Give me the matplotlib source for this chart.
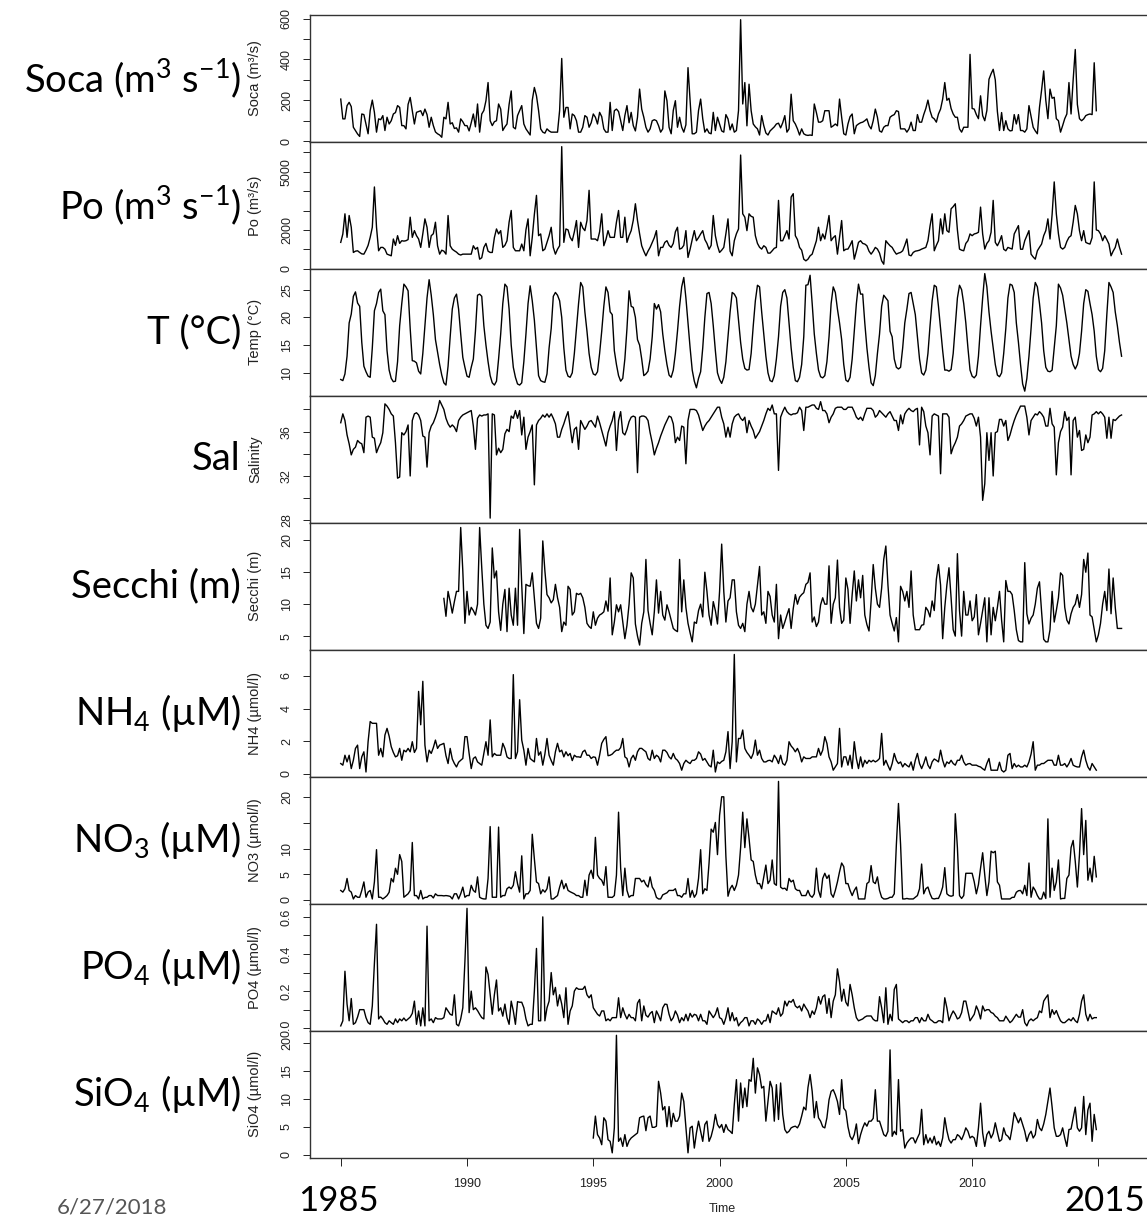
import matplotlib.pyplot as plt
import numpy as np

plt.rcParams['mathtext.fontset'] = 'custom'
plt.rcParams['mathtext.rm'] = 'Lato'
plt.rcParams['mathtext.it'] = 'Lato:italic'
plt.rcParams['mathtext.bf'] = 'Lato:bold'

# monthly series, one row per year
soca = [  # 1985-2014, m3/s
    206, 109, 109, 174, 190, 169, 68, 52, 35, 23, 133, 130,
    84, 36, 150, 201, 141, 44, 109, 105, 125, 52, 117, 84,
    100, 133, 140, 174, 165, 76, 76, 60, 180, 214, 150, 84,
    141, 145, 149, 125, 157, 130, 68, 117, 76, 45, 36, 30,
    19, 117, 109, 190, 84, 90, 62, 65, 44, 109, 95, 76,
    76, 50, 90, 133, 70, 182, 44, 133, 150, 198, 287, 100,
    76, 95, 100, 182, 157, 52, 70, 84, 180, 246, 68, 60,
    125, 150, 174, 84, 60, 45, 30, 200, 263, 222, 150, 60,
    44, 39, 60, 50, 44, 44, 44, 44, 150, 405, 117, 165,
    165, 60, 133, 125, 100, 44, 44, 68, 125, 117, 68, 90,
    133, 117, 84, 141, 120, 60, 44, 44, 190, 52, 149, 157,
    145, 100, 52, 125, 174, 90, 141, 76, 50, 117, 255, 157,
    117, 68, 44, 60, 100, 105, 100, 76, 44, 60, 246, 198,
    68, 36, 150, 198, 68, 117, 68, 44, 80, 360, 200, 36,
    36, 44, 150, 206, 110, 44, 60, 40, 36, 141, 52, 117,
    84, 50, 44, 130, 109, 55, 84, 44, 52, 150, 595, 182,
    287, 75, 279, 149, 84, 70, 60, 30, 125, 76, 40, 30,
    50, 60, 70, 84, 88, 65, 90, 125, 44, 60, 230, 100,
    84, 60, 30, 60, 36, 30, 28, 30, 28, 182, 140, 93,
    93, 100, 149, 149, 149, 68, 75, 84, 75, 206, 117, 36,
    30, 84, 120, 133, 36, 76, 84, 90, 93, 100, 109, 76,
    60, 100, 157, 117, 50, 44, 68, 76, 76, 117, 125, 130,
    149, 145, 60, 60, 60, 44, 60, 93, 52, 52, 130, 93,
    93, 130, 160, 201, 149, 117, 109, 93, 133, 157, 206, 287,
    200, 210, 160, 133, 117, 117, 60, 44, 68, 68, 68, 425,
    160, 157, 130, 110, 222, 125, 100, 150, 303, 330, 352, 300,
    145, 52, 140, 52, 100, 60, 50, 52, 130, 84, 130, 52,
    52, 44, 60, 174, 120, 68, 50, 36, 165, 250, 344, 200,
    110, 255, 210, 215, 110, 100, 44, 76, 110, 133, 287, 133,
    300, 449, 180, 110, 100, 109, 125, 130, 133, 130, 384, 149,
]

po = [  # 1985-2015, m3/s
    1354, 1788, 2830, 1614, 2743, 2135, 833, 900, 920, 833, 760, 746,
    950, 1200, 1614, 2135, 4218, 2135, 920, 1094, 1094, 1000, 746, 700,
    660, 1528, 1200, 1700, 1300, 1440, 1420, 1440, 1500, 2656, 1614, 1961,
    1700, 1528, 1094, 1800, 2569, 2135, 1094, 1700, 1800, 2395, 1180, 746,
    950, 900, 746, 2743, 1180, 1000, 920, 850, 746, 700, 746, 746,
    746, 746, 746, 1180, 1000, 1094, 486, 560, 1094, 1300, 900, 833,
    833, 1600, 2048, 1790, 1961, 1094, 1200, 1440, 2400, 3003, 1094, 920,
    920, 920, 1267, 920, 2000, 2569, 660, 1614, 2800, 3784, 1700, 1790,
    920, 1007, 1354, 1700, 2135, 1094, 746, 1000, 1180, 6302, 1354, 2048,
    2000, 1614, 1440, 1900, 2482, 1094, 2395, 2100, 1961, 2482, 4045, 1528,
    1528, 1528, 1440, 1900, 2830, 1180, 1500, 1961, 1614, 1614, 1614, 2400,
    3003, 1614, 1614, 2656, 1354, 1700, 1961, 2500, 3350, 2482, 1800, 1180,
    900, 660, 900, 1094, 1354, 1600, 1961, 660, 1094, 1094, 1354, 1440,
    1200, 1094, 1300, 1900, 2135, 1007, 1050, 1200, 1961, 574, 1000, 1500,
    1961, 1440, 1600, 1790, 1961, 1500, 1300, 1000, 1200, 2743, 1700, 1180,
    833, 950, 1094, 1800, 2569, 900, 660, 1440, 1800, 2048, 5868, 2830,
    2656, 1961, 2830, 2700, 2656, 1700, 1300, 1100, 1007, 1180, 1094, 800,
    800, 920, 1050, 1094, 3524, 1440, 1440, 1700, 1961, 1528, 3698, 3871,
    1700, 1500, 1094, 950, 486, 400, 486, 660, 746, 1094, 1440, 2135,
    1440, 1790, 1528, 2100, 2743, 1440, 1600, 1700, 746, 1600, 2482, 920,
    1000, 1007, 1200, 1440, 486, 900, 1354, 1440, 1300, 1267, 1180, 900,
    746, 900, 1094, 1007, 800, 400, 226, 1440, 1300, 1180, 1094, 900,
    746, 800, 833, 920, 1200, 1528, 700, 660, 833, 900, 920, 950,
    1007, 1050, 1094, 1440, 2200, 2830, 920, 1200, 1440, 2569, 1790, 2830,
    1961, 1876, 3090, 3200, 3350, 2000, 1007, 950, 920, 1300, 1440, 1790,
    1700, 1790, 1820, 1876, 3177, 1790, 1007, 1300, 1440, 1876, 3524, 1354,
    1180, 1400, 1700, 1000, 920, 1094, 1050, 1007, 1790, 2000, 2222, 1000,
    1000, 1440, 1700, 1961, 746, 600, 486, 920, 1100, 1267, 1700, 1961,
    2569, 1528, 2800, 4479, 2830, 1800, 1100, 1007, 1094, 1400, 1614, 1700,
    2400, 3264, 2830, 1961, 1440, 1961, 1354, 1300, 1267, 1600, 4479, 2000,
    1961, 1790, 1440, 1700, 1500, 1267, 660, 900, 1094, 1528, 1100, 746,
]

temp = [  # 1985-2015, deg C
    8.8, 8.6, 9.8, 13.0, 19.0, 20.6, 23.8, 24.6, 22.6, 22.0, 15.5, 11.2,
    10.2, 9.4, 9.2, 14.5, 21.2, 22.5, 24.5, 25.1, 21.2, 20.5, 14.0, 10.5,
    9.0, 8.4, 8.5, 12.0, 18.5, 22.5, 26.0, 25.5, 24.8, 18.0, 12.2, 12.1,
    11.8, 10.3, 9.8, 13.5, 18.5, 23.5, 26.8, 24.0, 20.5, 16.0, 13.8, 11.5,
    9.6, 8.2, 7.8, 11.2, 16.5, 21.5, 23.5, 24.2, 21.5, 17.0, 12.8, 11.0,
    9.4, 9.2, 11.0, 12.5, 17.5, 24.0, 24.2, 23.8, 18.5, 15.0, 12.0, 9.5,
    8.2, 7.8, 8.5, 12.5, 17.0, 22.5, 26.0, 25.5, 21.5, 15.0, 11.0, 9.2,
    8.0, 7.8, 8.2, 12.0, 17.0, 22.5, 25.7, 23.0, 19.5, 14.5, 9.5, 8.6,
    8.4, 8.3, 9.8, 14.5, 18.0, 23.8, 24.5, 24.0, 23.0, 20.0, 14.5, 10.5,
    9.4, 9.2, 10.0, 13.5, 18.0, 22.5, 26.3, 25.5, 21.0, 17.5, 13.5, 11.0,
    9.8, 9.6, 10.2, 13.5, 17.5, 22.0, 25.5, 24.5, 21.0, 20.5, 14.0, 11.5,
    9.5, 8.5, 9.0, 12.5, 18.0, 24.8, 22.0, 21.8, 20.0, 16.0, 15.0, 12.5,
    9.5, 9.8, 10.3, 12.5, 16.5, 22.5, 21.5, 22.3, 21.0, 17.0, 14.0, 11.5,
    9.6, 9.2, 10.5, 13.5, 17.5, 22.0, 25.5, 27.2, 23.5, 19.0, 14.5, 10.5,
    8.5, 7.3, 9.0, 10.2, 14.5, 20.0, 24.3, 24.5, 22.5, 18.5, 14.0, 10.0,
    8.8, 8.1, 9.2, 12.0, 16.5, 21.0, 24.5, 24.2, 23.5, 19.5, 15.5, 12.5,
    10.8, 10.5, 10.6, 13.5, 18.5, 23.0, 25.8, 25.5, 21.0, 17.0, 13.0, 10.0,
    8.6, 8.4, 9.5, 12.5, 16.5, 22.0, 24.5, 25.0, 23.5, 19.0, 14.5, 11.0,
    8.6, 8.4, 9.2, 11.5, 16.5, 25.8, 25.9, 27.6, 22.5, 17.0, 13.5, 10.5,
    9.3, 9.1, 9.5, 12.0, 16.5, 22.5, 25.5, 24.5, 21.5, 19.0, 16.0, 11.5,
    8.7, 8.4, 9.2, 12.5, 17.5, 22.5, 26.0, 24.2, 24.2, 19.0, 14.5, 11.0,
    8.2, 7.7, 9.5, 13.5, 17.0, 22.0, 24.0, 23.5, 23.0, 17.5, 16.5, 12.5,
    11.0, 10.7, 11.0, 14.5, 19.0, 21.5, 24.3, 24.5, 22.5, 20.5, 16.5, 12.5,
    10.0, 9.6, 10.5, 13.5, 18.5, 23.0, 25.8, 25.5, 22.0, 18.0, 14.0, 10.5,
    10.5, 10.3, 10.6, 13.5, 18.5, 23.5, 25.8, 25.0, 22.5, 19.0, 14.5, 10.5,
    9.4, 9.1, 9.6, 13.0, 18.5, 23.5, 27.9, 25.5, 21.0, 17.5, 14.5, 11.5,
    9.6, 9.3, 10.0, 13.5, 18.0, 23.5, 26.0, 25.8, 24.5, 19.0, 15.5, 11.5,
    8.0, 6.7, 9.0, 13.0, 18.0, 23.5, 26.3, 25.5, 22.5, 19.0, 14.0, 11.0,
    10.3, 10.2, 10.5, 14.5, 18.5, 26.0, 25.3, 24.0, 21.5, 19.0, 16.0, 13.0,
    11.5, 10.7, 11.5, 13.5, 17.5, 22.5, 25.0, 24.7, 22.5, 20.5, 17.5, 13.0,
    10.6, 10.2, 10.8, 14.0, 20.5, 26.3, 25.5, 24.5, 21.0, 18.5, 15.5, 13.0,
]

sal = [  # 1985-2015
    36.8, 37.6, 37.0, 35.7, 34.9, 33.9, 34.4, 34.6, 35.2, 35.0, 34.9, 34.1,
    37.3, 37.4, 37.3, 35.5, 35.4, 34.1, 34.6, 35.0, 35.9, 38.5, 38.3, 38.0,
    37.6, 37.4, 35.0, 31.8, 31.9, 35.9, 35.7, 36.0, 36.6, 32.0, 37.0, 37.6,
    37.7, 37.5, 37.0, 35.6, 35.5, 32.8, 35.9, 36.5, 36.8, 37.3, 37.9, 38.8,
    38.4, 38.0, 37.2, 36.7, 36.4, 36.6, 36.4, 36.0, 37.0, 37.3, 37.5, 37.6,
    37.7, 37.8, 37.9, 36.5, 34.4, 37.2, 37.5, 37.4, 37.5, 37.5, 37.6, 28.2,
    37.6, 37.5, 33.9, 34.5, 34.1, 34.4, 35.8, 36.2, 36.0, 37.4, 37.2, 37.9,
    37.2, 37.9, 35.7, 37.3, 34.4, 35.5, 36.0, 36.6, 31.2, 36.6, 37.0, 37.2,
    37.5, 37.3, 37.6, 37.3, 37.6, 37.2, 36.7, 35.5, 35.5, 36.2, 36.7, 37.3,
    37.8, 36.4, 35.0, 36.2, 36.4, 34.4, 37.0, 36.6, 36.2, 36.5, 36.9, 37.0,
    36.7, 36.4, 37.4, 36.8, 36.1, 35.4, 34.7, 35.9, 36.5, 37.0, 37.8, 34.3,
    37.0, 37.8, 35.9, 35.7, 36.2, 36.9, 37.3, 37.4, 37.3, 32.3, 37.3, 37.4,
    37.4, 37.3, 37.0, 35.9, 35.0, 33.9, 34.5, 35.0, 35.6, 36.1, 36.6, 37.0,
    37.4, 37.3, 36.7, 35.0, 35.5, 35.2, 36.5, 36.4, 33.1, 37.0, 38.0, 38.0,
    38.0, 37.9, 37.5, 36.8, 36.1, 36.5, 36.8, 37.0, 37.3, 37.6, 37.9, 38.2,
    38.2, 37.3, 36.7, 35.5, 36.4, 35.5, 36.7, 37.3, 37.5, 37.6, 37.2, 37.0,
    37.3, 35.9, 37.0, 36.5, 36.1, 35.4, 35.7, 36.0, 36.5, 37.0, 37.6, 38.1,
    37.9, 38.4, 37.6, 37.6, 32.5, 37.3, 37.8, 38.2, 37.8, 37.6, 37.5, 37.6,
    37.6, 37.7, 38.2, 37.9, 36.1, 38.2, 38.2, 38.3, 38.4, 38.4, 38.1, 38.0,
    38.7, 37.9, 37.9, 37.6, 36.8, 37.3, 37.6, 38.1, 38.2, 38.2, 38.2, 38.0,
    38.0, 38.2, 38.2, 38.2, 37.8, 37.3, 37.1, 37.3, 37.0, 37.6, 38.1, 38.1,
    38.1, 37.9, 37.3, 37.5, 37.9, 37.7, 37.5, 37.3, 37.6, 37.8, 37.4, 37.0,
    37.0, 36.1, 37.5, 36.7, 37.6, 37.9, 38.1, 37.9, 37.8, 38.0, 38.1, 34.8,
    38.2, 37.8, 36.5, 35.9, 33.9, 37.4, 37.6, 37.5, 37.4, 32.2, 37.6, 37.6,
    37.6, 37.3, 34.0, 34.6, 35.0, 35.5, 36.5, 36.7, 37.0, 37.4, 37.5, 37.6,
    37.6, 37.2, 36.5, 37.3, 35.5, 29.8, 31.3, 35.9, 33.4, 35.9, 32.0, 35.9,
    36.0, 37.1, 37.1, 36.5, 37.0, 35.2, 35.7, 36.4, 37.0, 37.5, 37.9, 38.3,
    38.3, 38.3, 37.3, 35.7, 37.0, 37.3, 37.6, 37.5, 37.8, 37.6, 37.3, 36.5,
    36.5, 38.1, 36.7, 36.4, 32.1, 35.0, 36.0, 36.4, 37.8, 37.0, 37.3, 32.1,
    37.0, 37.3, 35.5, 36.1, 34.3, 34.4, 35.7, 35.0, 35.5, 37.5, 37.6, 37.8,
    37.6, 37.8, 37.6, 37.3, 35.4, 37.3, 35.4, 37.1, 37.0, 37.2, 37.4, 37.5,
]

secchi = [  # Feb 1989 - Dec 2015, m
    10.9, 8.1, 12.0, 10.4, 8.6, 10.4, 12.0, 12.0, 22.0, 15.2, 7.0,
    12.0, 8.3, 9.5, 9.0, 8.3, 10.0, 22.0, 15.7, 10.0, 6.7, 6.2, 7.2,
    18.8, 14.1, 15.2, 8.8, 5.9, 10.0, 12.3, 5.7, 12.5, 8.3, 6.7, 12.5,
    6.7, 21.7, 13.0, 5.4, 13.1, 12.9, 12.8, 14.9, 11.0, 7.0, 6.2, 7.8,
    19.9, 15.2, 11.5, 11.0, 10.2, 10.7, 13.1, 11.0, 9.5, 5.7, 7.2, 6.7,
    12.8, 12.3, 8.3, 8.8, 11.7, 11.5, 11.7, 11.0, 9.5, 7.0, 6.5, 6.2,
    8.8, 6.7, 7.8, 8.3, 8.5, 8.8, 10.5, 8.9, 14.1, 5.2, 7.2, 9.9,
    8.8, 9.9, 7.2, 4.6, 6.7, 10.0, 14.9, 14.1, 6.9, 5.0, 3.6, 7.0,
    8.8, 17.0, 9.0, 7.0, 5.2, 8.8, 13.8, 8.6, 12.0, 8.3, 7.5, 9.9,
    8.8, 7.5, 6.2, 5.9, 5.7, 17.0, 8.8, 13.8, 9.5, 7.0, 5.5, 4.1,
    7.2, 7.0, 9.0, 10.0, 8.0, 15.0, 12.0, 8.3, 6.7, 10.4, 9.0, 6.9,
    12.0, 19.4, 12.0, 7.2, 10.5, 11.0, 13.8, 13.8, 8.8, 6.7, 6.2, 7.0,
    5.7, 10.0, 12.0, 9.5, 8.8, 10.0, 13.0, 15.9, 8.3, 8.8, 7.0, 12.0,
    11.2, 8.3, 7.2, 13.1, 4.6, 8.3, 6.2, 7.2, 8.3, 9.3, 6.2, 9.3,
    11.5, 10.0, 11.1, 11.5, 11.8, 13.1, 13.4, 14.9, 7.2, 8.0, 6.5, 7.2,
    9.9, 11.0, 10.0, 10.0, 16.0, 7.0, 10.0, 11.0, 16.9, 9.5, 7.0, 7.5,
    14.1, 12.3, 7.0, 11.5, 15.2, 10.5, 13.8, 11.0, 14.5, 8.3, 6.8, 5.8,
    10.5, 16.2, 12.5, 10.0, 9.5, 12.5, 17.0, 19.1, 13.0, 8.3, 7.0, 5.8,
    7.9, 4.1, 12.8, 12.0, 10.5, 12.0, 9.5, 15.2, 8.3, 6.0, 6.0, 6.0,
    6.7, 6.8, 9.5, 9.0, 8.0, 10.5, 9.0, 13.9, 16.2, 13.0, 4.6, 9.5,
    13.0, 15.7, 11.0, 6.0, 5.0, 17.9, 9.0, 5.0, 12.0, 8.3, 8.3, 10.5,
    7.4, 8.0, 11.5, 5.2, 7.0, 9.0, 11.0, 4.1, 11.0, 5.2, 9.5, 7.4,
    9.5, 12.0, 7.5, 4.1, 13.7, 12.0, 12.0, 11.5, 9.0, 6.0, 4.3, 4.1,
    4.1, 16.5, 8.5, 6.9, 7.8, 8.3, 10.0, 12.5, 13.5, 8.8, 4.5, 4.1,
    4.1, 6.0, 12.0, 7.2, 9.0, 11.0, 14.9, 14.5, 9.5, 7.5, 6.9, 8.5,
    9.5, 10.0, 11.5, 9.5, 11.5, 17.0, 15.0, 18.0, 8.3, 8.0, 6.0, 4.1,
    5.2, 7.0, 10.0, 12.0, 9.0, 15.5, 8.5, 14.1, 9.5, 6.2, 6.2, 6.2,
]

nh4 = [  # 1985-2014, umol/l
    0.62, 0.52, 1.13, 0.72, 1.13, 0.31, 0.82, 1.55, 1.75, 0.31, 1.03, 1.34,
    0.10, 1.96, 3.2, 3.09, 3.09, 3.09, 1.13, 1.55, 1.03, 2.37, 2.78, 2.3,
    1.65, 1.3, 1.03, 1.1, 1.55, 0.82, 1.44, 1.34, 1.55, 1.34, 1.96, 1.3,
    1.55, 5.05, 3.0, 5.67, 1.75, 0.72, 1.44, 1.24, 1.6, 2.06, 1.55, 1.75,
    1.8, 1.86, 1.1, 0.62, 1.55, 0.9, 0.62, 0.41, 0.7, 0.82, 0.93, 2.27,
    2.27, 1.24, 0.31, 0.93, 1.03, 0.72, 0.62, 0.52, 1.24, 1.96, 1.13, 3.3,
    1.03, 1.24, 1.13, 1.13, 1.13, 1.86, 1.55, 1.03, 0.93, 0.93, 6.08, 0.93,
    1.34, 4.54, 2.06, 1.44, 0.52, 1.55, 0.93, 0.82, 0.72, 2.16, 1.13, 1.34,
    0.52, 1.2, 2.16, 1.13, 0.8, 0.52, 1.34, 1.86, 1.34, 1.44, 1.03, 1.34,
    1.1, 1.24, 0.8, 1.13, 1.03, 1.03, 1.0, 1.34, 1.44, 1.13, 1.13, 0.93,
    1.03, 1.0, 0.52, 1.13, 1.86, 2.1, 2.27, 1.1, 1.13, 1.2, 1.34, 1.44,
    1.44, 1.6, 2.16, 1.03, 0.93, 0.41, 0.93, 1.13, 0.82, 1.34, 1.55, 1.55,
    1.44, 1.34, 0.93, 0.82, 1.44, 0.93, 1.13, 1.03, 0.72, 1.44, 1.44, 1.3,
    1.03, 0.9, 1.24, 0.93, 0.82, 0.62, 0.21, 0.62, 0.82, 0.7, 0.62, 0.82,
    0.82, 0.93, 1.34, 1.2, 0.82, 0.93, 0.72, 0.5, 0.41, 1.44, 0.1, 0.72,
    0.62, 0.75, 0.82, 1.34, 2.58, 0.31, 1.96, 7.32, 0.72, 2.16, 2.16, 2.68,
    1.55, 1.3, 1.13, 0.93, 1.24, 2.06, 1.13, 1.44, 0.93, 0.72, 0.72, 0.8,
    0.82, 0.72, 1.13, 0.93, 0.62, 1.13, 0.62, 0.52, 0.82, 1.96, 1.7, 1.55,
    1.34, 1.55, 1.24, 0.72, 1.03, 0.93, 0.93, 0.93, 1.03, 1.03, 1.03, 1.55,
    1.13, 1.44, 2.27, 1.86, 1.03, 0.72, 0.21, 0.41, 0.62, 2.78, 0.41, 1.03,
    1.03, 0.52, 1.13, 0.31, 1.96, 0.93, 0.31, 1.03, 0.41, 0.82, 0.62, 0.82,
    0.72, 0.82, 0.72, 0.8, 0.93, 2.47, 0.52, 0.82, 0.5, 0.21, 0.62, 1.24,
    0.82, 0.62, 0.72, 0.41, 0.62, 0.5, 0.41, 0.72, 0.21, 0.82, 1.24, 0.62,
    0.31, 0.62, 1.03, 0.52, 0.31, 0.72, 0.9, 0.82, 0.72, 1.44, 0.82, 0.41,
    0.72, 0.62, 0.82, 0.62, 0.52, 0.82, 0.82, 1.13, 0.72, 0.52, 0.6, 0.62,
    0.52, 0.52, 0.52, 0.45, 0.41, 0.3, 0.21, 0.62, 0.93, 0.21, 0.21, 0.21,
    0.21, 0.7, 0.21, 0.1, 0.21, 1.13, 1.24, 0.31, 0.62, 0.41, 0.52, 0.41,
    0.41, 0.52, 0.41, 0.72, 1.2, 1.96, 0.21, 0.52, 0.52, 0.62, 0.62, 0.72,
    0.82, 0.82, 0.82, 0.52, 0.52, 1.13, 0.52, 0.52, 0.62, 0.41, 0.62, 0.93,
    0.52, 0.45, 0.41, 0.41, 1.03, 1.44, 0.82, 0.41, 0.21, 0.62, 0.41, 0.21,
]

no3 = [  # 1985-2014, umol/l
    1.86, 1.53, 2.19, 4.19, 1.86, 1.53, 0.2, 0.86, 0.53, 0.53, 1.86, 3.52,
    0.53, 1.53, 1.86, 0.2, 3.52, 9.8, 0.53, 0.53, 0.2, 0.5, 0.86, 1.5,
    4.19, 3.5, 6.18, 5.0, 8.84, 7.5, 0.53, 0.86, 1.2, 1.86, 11.2, 0.86,
    0.86, 0.2, 1.86, 0.2, 0.5, 0.53, 0.86, 0.86, 0.4, 1.2, 0.86, 0.86,
    0.86, 0.8, 0.86, 0.8, 0.7, 0.2, 1.2, 1.2, 0.2, 1.2, 2.5, 0.53,
    0.86, 0.86, 2.86, 1.86, 1.5, 4.5, 0.53, 0.3, 0.2, 0.2, 4.19, 14.3,
    0.53, 0.53, 0.53, 14.2, 0.53, 0.86, 0.86, 2.19, 2.52, 2.19, 2.86, 5.5,
    3.19, 1.53, 8.6, 0.2, 1.2, 1.2, 1.86, 12.8, 8.0, 3.52, 3.19, 1.2,
    2.0, 1.53, 2.19, 4.5, 0.2, 0.2, 0.53, 0.86, 2.5, 3.85, 2.19, 3.19,
    1.86, 1.6, 1.4, 1.2, 0.86, 0.86, 0.53, 0.53, 3.85, 0.86, 4.85, 5.8,
    4.19, 12.2, 4.85, 4.19, 3.85, 2.86, 6.5, 0.53, 0.53, 0.5, 0.86, 4.85,
    17.1, 6.2, 0.86, 6.2, 1.86, 0.53, 0.86, 0.86, 4.19, 4.19, 4.19, 3.52,
    3.85, 3.0, 2.52, 4.5, 2.52, 1.86, 0.5, 0.2, 0.2, 1.0, 1.2, 1.4,
    1.86, 1.86, 1.86, 2.19, 0.86, 0.86, 0.53, 1.2, 1.2, 4.19, 0.53, 1.86,
    0.53, 1.2, 4.19, 9.8, 1.2, 2.19, 1.86, 7.2, 13.8, 13.2, 15.1, 8.84,
    16.5, 20.1, 20.1, 8.5, 0.73, 2.19, 2.86, 1.86, 2.86, 4.85, 10.2, 17.1,
    10.2, 15.8, 12.0, 7.8, 7.5, 4.85, 3.19, 3.19, 2.19, 4.5, 6.8, 3.19,
    3.85, 7.8, 3.19, 2.86, 23.1, 2.5, 2.19, 2.3, 1.86, 4.19, 3.52, 3.85,
    2.19, 1.86, 1.86, 0.86, 0.86, 0.86, 1.86, 0.86, 0.53, 1.2, 6.2, 1.86,
    0.53, 4.19, 5.2, 4.19, 4.85, 1.2, 0.53, 1.86, 3.52, 5.5, 7.2, 6.5,
    3.19, 3.19, 1.86, 0.86, 1.86, 2.52, 0.2, 0.2, 0.2, 0.2, 3.19, 3.52,
    6.7, 3.52, 3.19, 4.5, 1.86, 0.53, 0.2, 0.2, 0.3, 0.53, 0.53, 1.2,
    10.8, 18.8, 10.8, 0.2, 0.2, 0.3, 0.2, 0.2, 0.2, 0.53, 0.86, 2.19,
    7.0, 1.2, 2.19, 2.52, 1.2, 0.3, 0.2, 0.3, 0.3, 1.2, 2.52, 6.3,
    1.2, 0.86, 0.73, 0.86, 16.8, 10.2, 0.86, 0.3, 0.86, 5.2, 5.2, 5.2,
    5.2, 3.52, 1.2, 3.0, 6.2, 9.2, 4.85, 0.86, 3.52, 9.5, 9.2, 9.5,
    3.52, 2.86, 0.2, 0.2, 0.2, 0.2, 0.2, 0.5, 0.53, 1.5, 1.8, 1.86,
    1.2, 2.86, 0.86, 7.2, 0.53, 2.52, 1.86, 0.86, 0.2, 0.2, 1.53, 0.3,
    15.8, 0.53, 6.2, 1.86, 3.52, 7.8, 0.2, 0.3, 0.3, 4.19, 4.85, 10.2,
    11.6, 7.5, 2.52, 8.84, 17.8, 8.84, 15.5, 3.85, 6.2, 3.52, 8.5, 4.5,
]

po4 = [  # 1985-2014, umol/l
    0.0125, 0.04, 0.307, 0.13, 0.04, 0.16, 0.021, 0.03, 0.06, 0.1, 0.1, 0.1,
    0.057, 0.03, 0.021, 0.12, 0.35, 0.56, 0.05, 0.065, 0.05, 0.03, 0.021, 0.04,
    0.03, 0.021, 0.05, 0.03, 0.05, 0.04, 0.055, 0.04, 0.05, 0.06, 0.08, 0.146,
    0.021, 0.093, 0.0125, 0.11, 0.0125, 0.55, 0.04, 0.05, 0.03, 0.057, 0.05, 0.05,
    0.05, 0.057, 0.11, 0.093, 0.075, 0.07, 0.18, 0.021, 0.0125, 0.05, 0.11, 0.36,
    0.646, 0.084, 0.2, 0.1, 0.11, 0.095, 0.075, 0.057, 0.05, 0.33, 0.29, 0.18,
    0.075, 0.18, 0.26, 0.093, 0.11, 0.065, 0.13, 0.057, 0.021, 0.146, 0.093, 0.021,
    0.143, 0.14, 0.14, 0.11, 0.05, 0.0125, 0.021, 0.021, 0.2, 0.43, 0.04, 0.04,
    0.6, 0.04, 0.11, 0.146, 0.3, 0.18, 0.22, 0.12, 0.18, 0.13, 0.057, 0.218,
    0.021, 0.093, 0.12, 0.2, 0.218, 0.21, 0.21, 0.21, 0.226, 0.18, 0.164, 0.18,
    0.11, 0.093, 0.075, 0.066, 0.093, 0.093, 0.04, 0.05, 0.04, 0.057, 0.057, 0.057,
    0.164, 0.057, 0.11, 0.075, 0.05, 0.075, 0.057, 0.057, 0.04, 0.135, 0.155, 0.04,
    0.12, 0.07, 0.06, 0.08, 0.09, 0.03, 0.093, 0.07, 0.04, 0.11, 0.13, 0.128,
    0.075, 0.04, 0.057, 0.093, 0.07, 0.03, 0.057, 0.04, 0.075, 0.04, 0.08, 0.06,
    0.075, 0.07, 0.04, 0.075, 0.04, 0.04, 0.021, 0.093, 0.075, 0.057, 0.075, 0.11,
    0.057, 0.05, 0.021, 0.057, 0.11, 0.04, 0.084, 0.04, 0.057, 0.0125, 0.03, 0.04,
    0.057, 0.057, 0.0125, 0.04, 0.04, 0.021, 0.05, 0.04, 0.021, 0.04, 0.04, 0.075,
    0.03, 0.093, 0.084, 0.075, 0.11, 0.065, 0.08, 0.146, 0.12, 0.146, 0.14, 0.155,
    0.12, 0.11, 0.12, 0.093, 0.13, 0.11, 0.093, 0.057, 0.093, 0.075, 0.11, 0.17,
    0.13, 0.17, 0.18, 0.08, 0.16, 0.057, 0.146, 0.18, 0.32, 0.25, 0.146, 0.21,
    0.14, 0.12, 0.236, 0.18, 0.11, 0.057, 0.04, 0.045, 0.05, 0.06, 0.066, 0.066,
    0.066, 0.048, 0.04, 0.04, 0.17, 0.11, 0.03, 0.218, 0.021, 0.075, 0.04, 0.209,
    0.236, 0.05, 0.04, 0.03, 0.04, 0.04, 0.03, 0.04, 0.04, 0.057, 0.057, 0.03,
    0.057, 0.04, 0.04, 0.075, 0.048, 0.04, 0.03, 0.03, 0.04, 0.04, 0.03, 0.164,
    0.11, 0.04, 0.07, 0.093, 0.075, 0.05, 0.057, 0.084, 0.146, 0.146, 0.093, 0.04,
    0.057, 0.075, 0.12, 0.093, 0.05, 0.12, 0.093, 0.1, 0.1, 0.085, 0.08, 0.065,
    0.057, 0.04, 0.04, 0.04, 0.065, 0.048, 0.03, 0.04, 0.057, 0.075, 0.06, 0.06,
    0.1, 0.03, 0.0125, 0.04, 0.05, 0.04, 0.05, 0.057, 0.093, 0.084, 0.146, 0.164,
    0.18, 0.057, 0.1, 0.075, 0.095, 0.065, 0.04, 0.03, 0.03, 0.04, 0.05, 0.04,
    0.057, 0.04, 0.03, 0.075, 0.146, 0.18, 0.075, 0.04, 0.075, 0.05, 0.057, 0.057,
]

sio4 = [  # 1995-2014, umol/l
    3.0, 6.9, 3.6, 3.0, 1.8, 6.6, 6.0, 2.7, 2.4, 0.35, 4.8, 21.3,
    2.4, 3.0, 1.5, 3.6, 1.5, 2.5, 3.0, 3.3, 3.6, 3.9, 6.6, 6.8,
    6.9, 4.3, 6.6, 6.9, 4.9, 4.9, 5.1, 13.1, 11.0, 8.0, 8.6, 5.0,
    8.6, 5.0, 7.4, 6.0, 6.0, 6.9, 11.0, 9.5, 5.0, 0.35, 4.8, 5.1,
    1.2, 3.9, 6.0, 4.2, 2.4, 5.4, 6.0, 2.4, 3.3, 4.8, 7.2, 5.4,
    4.8, 5.4, 4.0, 5.4, 4.5, 4.2, 3.8, 9.0, 13.4, 6.0, 12.8, 8.4,
    11.9, 8.6, 13.4, 13.1, 17.2, 11.0, 15.5, 14.3, 11.9, 12.2, 6.0, 9.5,
    13.1, 11.9, 6.0, 12.5, 6.3, 12.8, 7.2, 4.5, 3.9, 4.2, 4.8, 5.0,
    5.1, 4.8, 5.5, 6.9, 8.5, 8.0, 12.0, 14.3, 11.3, 6.6, 9.5, 6.6,
    6.0, 5.0, 4.8, 6.6, 9.8, 11.3, 11.6, 10.7, 9.5, 7.2, 13.4, 8.3,
    7.8, 5.0, 3.3, 2.7, 3.6, 5.5, 2.0, 3.6, 4.8, 5.7, 5.1, 6.0,
    6.0, 6.5, 11.6, 6.0, 6.0, 4.8, 3.6, 3.3, 4.2, 18.7, 3.3, 4.2,
    3.6, 13.4, 4.2, 4.5, 1.2, 2.1, 2.6, 3.0, 3.0, 2.1, 3.0, 3.8,
    8.1, 1.8, 3.6, 2.1, 3.0, 2.1, 3.3, 1.8, 2.4, 1.5, 3.0, 6.6,
    4.3, 2.7, 2.1, 2.7, 2.7, 3.6, 3.3, 2.7, 3.6, 4.8, 4.2, 3.0,
    3.3, 3.0, 1.5, 4.8, 9.2, 3.9, 1.5, 3.6, 4.2, 3.0, 3.8, 5.7,
    4.0, 2.4, 2.7, 4.8, 3.6, 3.3, 2.7, 4.8, 7.5, 6.6, 5.7, 6.6,
    5.4, 4.2, 2.4, 3.6, 4.2, 3.0, 3.6, 6.3, 4.8, 4.3, 5.5, 7.2,
    9.5, 11.9, 8.5, 4.8, 3.3, 3.3, 3.6, 4.8, 3.0, 1.5, 4.5, 4.6,
    6.6, 8.5, 4.8, 4.2, 4.8, 10.4, 3.6, 8.0, 9.2, 2.4, 7.2, 4.5,
]

start_year = [1985, 1985, 1985, 1985, 1989 + 1 / 12, 1985, 1985, 1985, 1995]
series = [soca, po, temp, sal, secchi, nh4, no3, po4, sio4]

small_labels = ['Soca (m³/s)', 'Po (m³/s)', 'Temp (°C)', 'Salinity', 'Secchi (m)',
                'NH4 (µmol/l)', 'NO3 (µmol/l)', 'PO4 (µmol/l)', 'SiO4 (µmol/l)']
big_labels = ['Soca (m$^{3}$ s$^{-1}$)', 'Po (m$^{3}$ s$^{-1}$)', 'T (°C)', 'Sal',
              'Secchi (m)', 'NH$_4$ (µM)', 'NO$_3$ (µM)', 'PO$_4$ (µM)', 'SiO$_4$ (µM)']

y_ticks = [
    [0, 100, 200, 300, 400, 500, 600],
    [0, 1000, 2000, 3000, 4000, 5000, 6000],
    [10, 15, 20, 25],
    [28, 30, 32, 34, 36, 38],
    [5, 10, 15, 20],
    [0, 2, 4, 6],
    [0, 5, 10, 15, 20],
    [0.0, 0.1, 0.2, 0.3, 0.4, 0.5, 0.6],
    [0, 5, 10, 15, 20],
]
y_ticklabels = [
    ['0', '', '200', '', '400', '', '600'],
    ['0', '', '2000', '', '', '5000', ''],
    ['10', '15', '20', '25'],
    ['28', '', '32', '', '36', ''],
    ['5', '10', '15', '20'],
    ['0', '2', '4', '6'],
    ['0', '5', '10', '', '20'],
    ['0.0', '', '0.2', '', '0.4', '', '0.6'],
    ['0', '5', '10', '15', '20'],
]

x_ticks = [1985, 1990, 1995, 2000, 2005, 2010, 2015]
x_ticklabels = ['', '1990', '1995', '2000', '2005', '2010', '']

W, H = 1147, 1219
fig = plt.figure(figsize=(W / 100, H / 100), dpi=100)

ax_left = 309.5
ax_w = 843.3
top_px = 15
panel_h = 126.95

times = [start_year[i] + np.arange(len(v)) / 12 for i, v in enumerate(series)]
t_lo = min(t.min() for t in times)
t_hi = max(t.max() for t in times)
t_pad = 0.04 * (t_hi - t_lo)

for i, v in enumerate(series):
    y_top = top_px + i * panel_h
    ax = fig.add_axes([ax_left / W, 1 - (y_top + panel_h) / H, ax_w / W, panel_h / H])
    ax.plot(times[i], v, color='black', linewidth=1.0)

    lo, hi = min(v), max(v)
    pad = 0.04 * (hi - lo)
    ax.set_ylim(lo - pad, hi + pad)
    ax.set_xlim(t_lo - t_pad, t_hi + t_pad)

    ax.set_yticks(y_ticks[i])
    ax.set_yticklabels(y_ticklabels[i], rotation=90, va='center',
                       family='Liberation Sans', fontsize=9, color='#222222')
    ax.tick_params(axis='y', direction='out', length=5, width=0.7, pad=7, colors='#222222')

    if i == len(series) - 1:
        ax.set_xticks(x_ticks)
        ax.set_xticklabels(x_ticklabels, family='Liberation Sans', fontsize=9, color='#222222')
        ax.tick_params(axis='x', direction='out', length=6, width=0.7, pad=9, colors='#222222')
    else:
        ax.set_xticks([])

    for s in ax.spines.values():
        s.set_linewidth(1.0)
        s.set_color('#333333')

    ax.text(255 / W, 1 - (y_top + panel_h / 2) / H, small_labels[i], transform=fig.transFigure,
            rotation=90, ha='center', va='center', family='Liberation Sans', fontsize=10.5,
            color='#222222')

    fig.text(241 / W, 1 - (y_top + panel_h / 2) / H, big_labels[i], ha='right', va='center',
             family=['Lato', 'DejaVu Sans'], fontsize=27.5, color='black')

fig.text(722 / W, 1 - 1209 / H, 'Time', ha='center', va='center',
         family='Liberation Sans', fontsize=9, color='#222222')
fig.text(338 / W, 1 - 1201 / H, '1985', ha='center', va='center',
         family='Lato', fontsize=25, color='black')
fig.text(1105 / W, 1 - 1201 / H, '2015', ha='center', va='center',
         family='Lato', fontsize=25, color='black')
fig.text(57 / W, 1 - 1213 / H, '6/27/2018', ha='left', va='baseline',
         family='Lato', fontsize=16, color='#555555')

plt.savefig('out.png', dpi=100)
